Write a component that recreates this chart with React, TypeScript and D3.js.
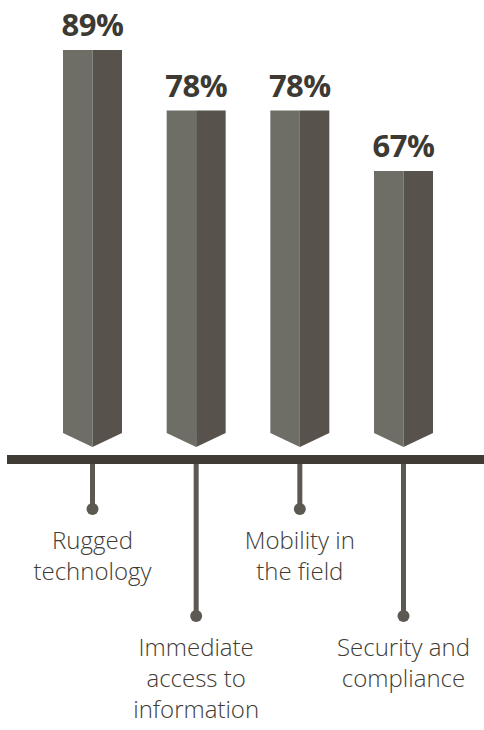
import React from "react";
import * as d3 from "d3";

const categories = ["Rugged technology", "Immediate access to information", "Mobility in the field", "Security and compliance"];
const values = [89, 78, 78, 67];
const labelLines = [["Rugged", "technology"], ["Immediate", "access to", "information"], ["Mobility in", "the field"], ["Security and", "compliance"]];
const valueLabels = ["89%", "78%", "78%", "67%"];

const W = 484;
const H = 730;

export default function App() {
  const x = d3.scalePoint<string>().domain(categories).range([92.5, 403.5]);
  const y = d3.scaleLinear().domain([0, 100]).range([539.5, -10.5]);
  const barW = 59;
  const sideBottom = 433;
  const tipBottom = 447;
  const axisTop = 455;
  const axisH = 9;
  const dotRows = [509, 616];
  const lineH = 31;

  return (
    <div style={{ position: "absolute", left: 0, top: 0 }}>
      <svg width={W} height={H} style={{ display: "block" }}>
        <rect width={W} height={H} fill="#ffffff" />
        {categories.map((c, i) => {
          const cx = x(c)!;
          const top = y(values[i]);
          const x0 = cx - barW / 2;
          const x1 = cx + barW / 2;
          const left = d3.line()([[x0, top], [cx, top], [cx, tipBottom], [x0, sideBottom]]) + "Z";
          const right = d3.line()([[cx, top], [x1, top], [x1, sideBottom], [cx, tipBottom]]) + "Z";
          const dotY = dotRows[i % 2];
          return (
            <g key={c}>
              <path d={left} fill="#6e6e67" />
              <path d={right} fill="#57534c" />
              <text x={cx} y={top - 14} textAnchor="middle" fontFamily="'Open Sans', sans-serif" fontWeight={700} fontSize={31} fill="#3d3933" letterSpacing={-0.5}>
                {valueLabels[i]}
              </text>
              <line x1={cx} x2={cx} y1={axisTop + axisH} y2={dotY} stroke="#5c5852" strokeWidth={5} />
              <circle cx={cx} cy={dotY} r={6} fill="#5c5852" />
              <text textAnchor="middle" fontFamily="'Open Sans', sans-serif" fontWeight={300} fontSize={24} fill="#403b34">
                {labelLines[i].map((l, j) => (
                  <tspan key={j} x={cx} y={dotY + 40 + j * lineH}>{l}</tspan>
                ))}
              </text>
            </g>
          );
        })}
        <rect x={7} y={axisTop} width={W - 7} height={axisH} fill="#403b34" />
      </svg>
    </div>
  );
}
